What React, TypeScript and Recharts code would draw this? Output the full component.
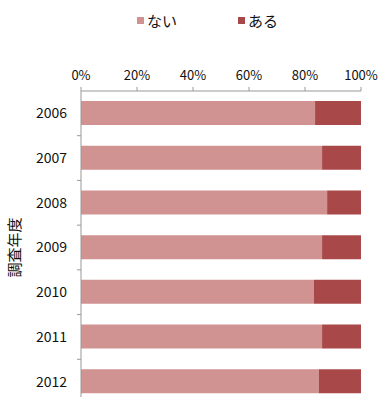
import React, { useLayoutEffect } from 'react';
import { BarChart, Bar, XAxis, YAxis, Legend, Label } from 'recharts';

const years = ['2006', '2007', '2008', '2009', '2010', '2011', '2012'];
const naiValues = [83.6, 86.1, 87.9, 86.1, 83.2, 86.1, 85.0];
const aruValues = [16.4, 13.9, 12.1, 13.9, 16.8, 13.9, 15.0];
const xTicks = [0, 20, 40, 60, 80, 100];

const data = years.map((y, i) => ({ year: y, nai: naiValues[i], aru: aruValues[i] }));

const FONT = '"Noto Sans CJK JP", "Noto Sans", sans-serif';
const LIGHT = '#D19292';
const DARK = '#A84848';
const AXIS = '#999999';
const TEXT = '#111111';

const YTick = (props: any) => {
  const { x, y, payload } = props;
  const half = payload && payload.offset ? payload.offset : 22.35;
  return (
    <g>
      <line x1={x + 10} x2={x + 14} y1={y + half} y2={y + half} stroke={AXIS} strokeWidth={1} />
      <text x={x} y={y} dy="0.35em" textAnchor="end" fontSize={14} fill={TEXT} fontFamily={FONT}>
        {payload.value}
      </text>
    </g>
  );
};

const XTick = (props: any) => {
  const { x, y, payload } = props;
  return (
    <text x={x} y={y} textAnchor="middle" fontSize={13} fill={TEXT} fontFamily={FONT}>
      {`${payload.value}%`}
    </text>
  );
};

const LegendContent = () => (
  <div style={{ width: 379, height: 24, position: 'relative', fontFamily: FONT, fontSize: 15, color: TEXT }}>
    <div style={{ position: 'absolute', left: 137, top: 0, display: 'flex', alignItems: 'center', height: 24 }}>
      <span style={{ display: 'inline-block', width: 7, height: 7, background: LIGHT, marginRight: 3 }} />
      <span>ない</span>
    </div>
    <div style={{ position: 'absolute', left: 238, top: 0, display: 'flex', alignItems: 'center', height: 24 }}>
      <span style={{ display: 'inline-block', width: 7, height: 7, background: DARK, marginRight: 3 }} />
      <span>ある</span>
    </div>
  </div>
);

export default function App() {
  useLayoutEffect(() => {
    document.body.style.margin = '0';
    document.body.style.overflow = 'hidden';
    document.documentElement.style.overflow = 'hidden';
  }, []);
  return (
    <div style={{ width: 379, height: 397, overflow: 'hidden', background: '#fff' }}>
      <BarChart
        width={379}
        height={410}
        data={data}
        layout="vertical"
        margin={{ top: 37, right: 18, bottom: 6, left: 0 }}
        style={{ overflow: 'visible' }}
      >
        <Legend
          verticalAlign="top"
          align="left"
          content={<LegendContent />}
          wrapperStyle={{ left: 0, top: 8, width: 379, height: 24 }}
        />
        <XAxis
          type="number"
          orientation="top"
          domain={[0, 100]}
          ticks={xTicks}
          height={30}
          tickSize={4}
          tickMargin={7}
          stroke={AXIS}
          tick={<XTick />}
          interval={0}
        />
        <YAxis
          type="category"
          dataKey="year"
          width={81}
          tickLine={false}
          tickSize={4}
          tickMargin={10}
          stroke={AXIS}
          tick={<YTick />}
          interval={0}
        >
          <Label
            value="調査年度"
            angle={-90}
            position="insideLeft"
            offset={15}
            style={{ fontSize: 15, fill: TEXT, fontFamily: FONT, textAnchor: 'middle' }}
          />
        </YAxis>
        <Bar dataKey="nai" name="ない" stackId="a" fill={LIGHT} barSize={24} isAnimationActive={false} />
        <Bar dataKey="aru" name="ある" stackId="a" fill={DARK} barSize={24} isAnimationActive={false} />
      </BarChart>
    </div>
  );
}
